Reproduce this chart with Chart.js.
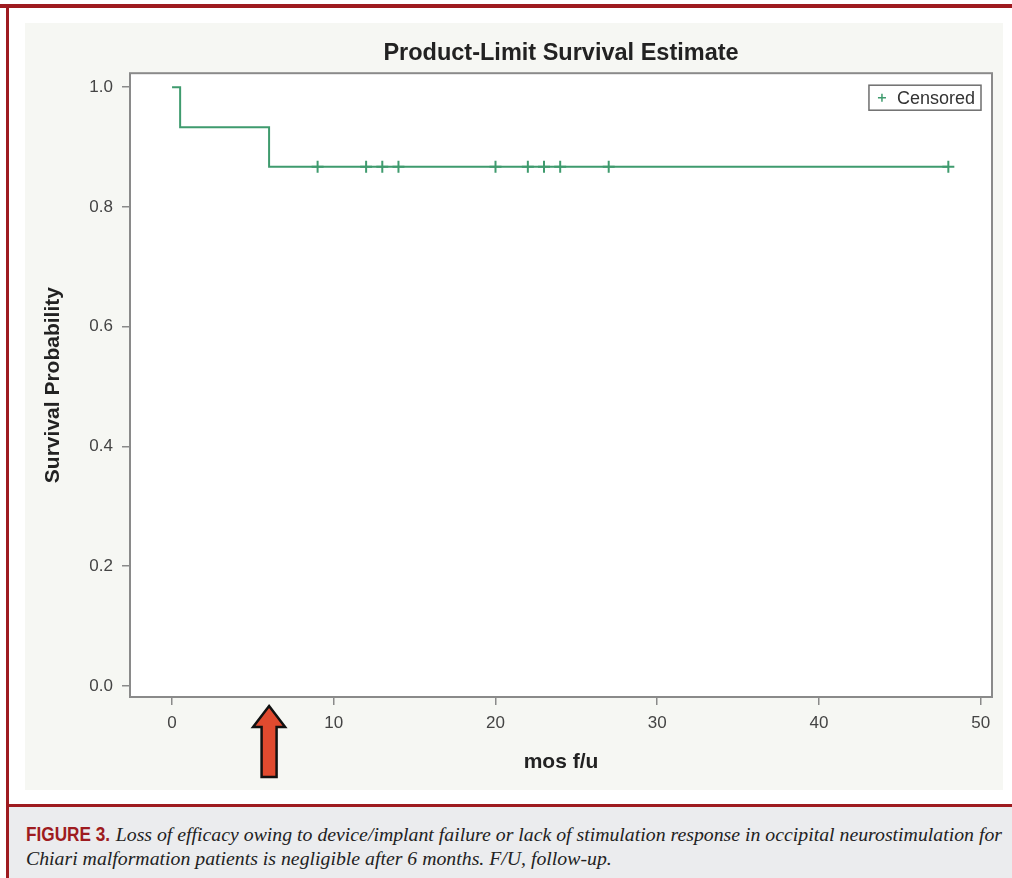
<!DOCTYPE html>
<html><head><meta charset="utf-8">
<script src="https://cdn.jsdelivr.net/npm/chart.js@4.4.1/dist/chart.umd.min.js"></script>
<style>
html,body{margin:0;padding:0;background:#fff;width:1012px;height:878px;overflow:hidden;position:relative;}
#topline{position:absolute;left:0;top:4px;width:1012px;height:4px;background:#9e1b20;}
#leftline{position:absolute;left:6px;top:4px;width:3px;height:874px;background:#9e1b20;}
#chartbox{position:absolute;left:25px;top:23px;width:978px;height:767px;background:#f6f7f3;}
#capline{position:absolute;left:6px;top:804px;width:1006px;height:3px;background:#9e1b20;}
#capbg{position:absolute;left:9px;top:807px;width:1003px;height:71px;background:#ebecee;}
.cap{position:absolute;left:26px;white-space:nowrap;font-family:"Liberation Serif",serif;font-style:italic;font-size:19.8px;line-height:24px;color:#222;}
.fig{display:inline-block;transform:scaleX(0.86);transform-origin:0 0;margin-right:-13px;font-family:"Liberation Sans Narrow","Liberation Sans",sans-serif;font-size:20px;font-weight:bold;font-style:normal;color:#9e1b20;}
</style>
</head><body>
<div id="topline"></div>
<div id="leftline"></div>
<div id="chartbox"><canvas id="c" width="978" height="767"></canvas></div>
<div id="capline"></div>
<div id="capbg"></div>
<div class="cap" style="top:822px"><span class="fig">FIGURE 3.</span> Loss of efficacy owing to device/implant failure or lack of stimulation response in occipital neurostimulation for</div>
<div class="cap" style="top:846px">Chiari malformation patients is negligible after 6 months. F/U, follow-up.</div>
<script>
// ---- data ----
const stepTimes = [0, 0.5, 6, 48];
const stepSurvival = [1.0, 0.933, 0.867, 0.867];
const censoredTimes = [9, 12, 13, 14, 20, 22, 23, 24, 27, 48];
const censoredSurvival = [0.867, 0.867, 0.867, 0.867, 0.867, 0.867, 0.867, 0.867, 0.867, 0.867];
const xTicks = [0, 10, 20, 30, 40, 50];
const yTicks = [0.0, 0.2, 0.4, 0.6, 0.8, 1.0];
const arrowAt = 6;
const chartTitle = 'Product-Limit Survival Estimate';
const xTitle = 'mos f/u';
const yTitle = 'Survival Probability';
const legendLabel = 'Censored';

const GREEN = '#3f9b6e';
const FONT = '"Liberation Sans", Arial, sans-serif';
Chart.defaults.font.family = FONT;

const deco = {
  id: 'deco',
  beforeDraw(chart) {
    const {ctx, chartArea: a} = chart;
    ctx.save();
    ctx.fillStyle = '#ffffff';
    ctx.fillRect(a.left, a.top, a.right - a.left, a.bottom - a.top);
    ctx.restore();
  },
  afterDraw(chart) {
    const {ctx, chartArea: a} = chart;
    ctx.save();
    // frame
    ctx.strokeStyle = '#8a8a8a';
    ctx.lineWidth = 2;
    ctx.strokeRect(a.left, a.top, a.right - a.left, a.bottom - a.top);
    // legend
    ctx.font = '18px ' + FONT;
    const tw = ctx.measureText(legendLabel).width;
    const bw = 28 + tw + 6, bh = 25;
    const bx = a.right - 11 - bw, by = a.top + 12;
    ctx.fillStyle = '#ffffff';
    ctx.fillRect(bx, by, bw, bh);
    ctx.strokeStyle = '#6e6e6e';
    ctx.lineWidth = 1.5;
    ctx.strokeRect(bx, by, bw, bh);
    ctx.strokeStyle = GREEN;
    ctx.lineWidth = 1.5;
    const px = bx + 13, py = by + bh / 2;
    ctx.beginPath();
    ctx.moveTo(px - 4, py); ctx.lineTo(px + 4, py);
    ctx.moveTo(px, py - 4); ctx.lineTo(px, py + 4);
    ctx.stroke();
    ctx.fillStyle = '#333';
    ctx.textBaseline = 'middle';
    ctx.textAlign = 'left';
    ctx.fillText(legendLabel, bx + 28, py + 1);
    // arrow
    const x = chart.scales.x.getPixelForValue(arrowAt);
    const tip = a.bottom + 9, hb = a.bottom + 30, bot = a.bottom + 80;
    ctx.beginPath();
    ctx.moveTo(x, tip);
    ctx.lineTo(x + 16, hb);
    ctx.lineTo(x + 7.5, hb);
    ctx.lineTo(x + 7.5, bot);
    ctx.lineTo(x - 7.5, bot);
    ctx.lineTo(x - 7.5, hb);
    ctx.lineTo(x - 16, hb);
    ctx.closePath();
    ctx.fillStyle = '#e04a2f';
    ctx.fill();
    ctx.lineWidth = 2.5;
    ctx.lineJoin = 'miter';
    ctx.strokeStyle = '#111';
    ctx.stroke();
    ctx.restore();
  }
};

new Chart(document.getElementById('c'), {
  type: 'scatter',
  data: {
    datasets: [
      {
        type: 'line',
        label: 'Survival',
        data: stepTimes.map((t, i) => ({x: t, y: stepSurvival[i]})),
        stepped: true,
        borderColor: GREEN,
        borderWidth: 2,
        pointRadius: 0,
        fill: false
      },
      {
        label: legendLabel,
        data: censoredTimes.map((t, i) => ({x: t, y: censoredSurvival[i]})),
        pointStyle: 'cross',
        pointRadius: 6,
        pointBorderWidth: 2,
        borderColor: GREEN,
        backgroundColor: GREEN,
        showLine: false
      }
    ]
  },
  options: {
    responsive: false,
    devicePixelRatio: 1,
    animation: false,
    layout: {padding: {left: 0, right: 11, top: 0, bottom: 0}},
    plugins: {
      legend: {display: false},
      tooltip: {enabled: false},
      title: {
        display: true, text: chartTitle, fullSize: false,
        color: '#222', font: {size: 23.5, weight: 'bold'},
        padding: {top: 16, bottom: 6}
      }
    },
    scales: {
      x: {
        type: 'linear', min: -2.6, max: 50.7,
        afterBuildTicks: s => { s.ticks = xTicks.map(v => ({value: v})); },
        afterFit: s => { s.height = 93; },
        grid: {display: true, drawOnChartArea: false, drawTicks: true, tickLength: 8, color: '#8a8a8a', lineWidth: 1.5},
        border: {display: false},
        ticks: {color: '#444', font: {size: 17}, padding: 8},
        title: {display: true, text: xTitle, color: '#222', font: {size: 21, weight: 'bold'}, padding: {top: 0, bottom: 15.4}}
      },
      y: {
        type: 'linear', min: -0.0184, max: 1.0234,
        afterBuildTicks: s => { s.ticks = yTicks.map(v => ({value: v})); },
        afterFit: s => { s.width = 105; },
        grid: {display: true, drawOnChartArea: false, drawTicks: true, tickLength: 8, color: '#8a8a8a', lineWidth: 1.5},
        border: {display: false},
        ticks: {color: '#444', font: {size: 17}, padding: 9, callback: v => Number(v).toFixed(1)},
        title: {display: true, text: yTitle, color: '#222', font: {size: 21, weight: 'bold'}, padding: {top: 15.4, bottom: 0}}
      }
    }
  },
  plugins: [deco]
});
</script>
</body></html>
